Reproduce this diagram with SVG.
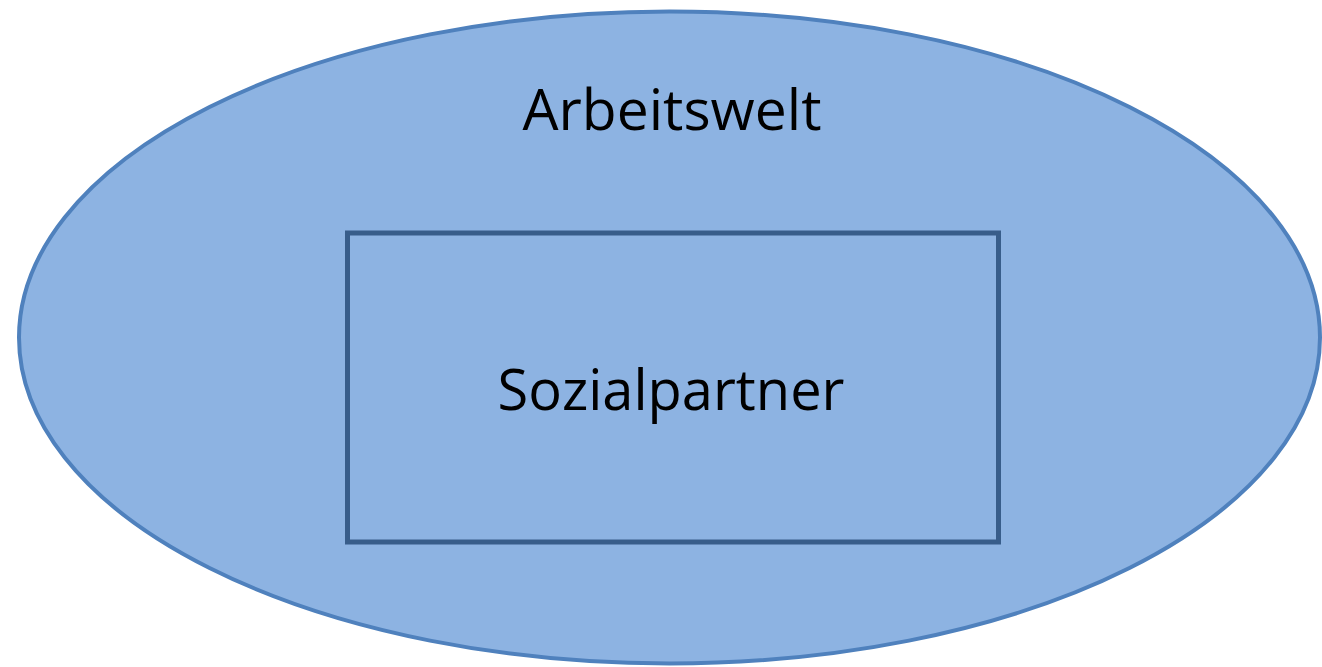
<svg xmlns="http://www.w3.org/2000/svg" width="1322" height="667" viewBox="0 0 1322 667">
<style>
.lbl{font-family:"Open Sans","Liberation Sans",sans-serif;fill:#000;text-anchor:middle}
</style>
<rect width="1322" height="667" fill="#fff"/>
<g id="arbeitswelt">
<ellipse cx="669.5" cy="337.5" rx="650.5" ry="326" fill="#8db3e2" stroke="#4f81bd" stroke-width="4"/>
<text class="lbl" x="672" y="130" font-size="57">Arbeitswelt</text>
</g>
<g id="sozialpartner">
<rect x="347.5" y="233" width="651" height="309" fill="#8db3e2" stroke="#385d8a" stroke-width="5"/>
<text class="lbl" x="671" y="410" font-size="56">Sozialpartner</text>
</g>
<g id="connectors"></g>
</svg>
